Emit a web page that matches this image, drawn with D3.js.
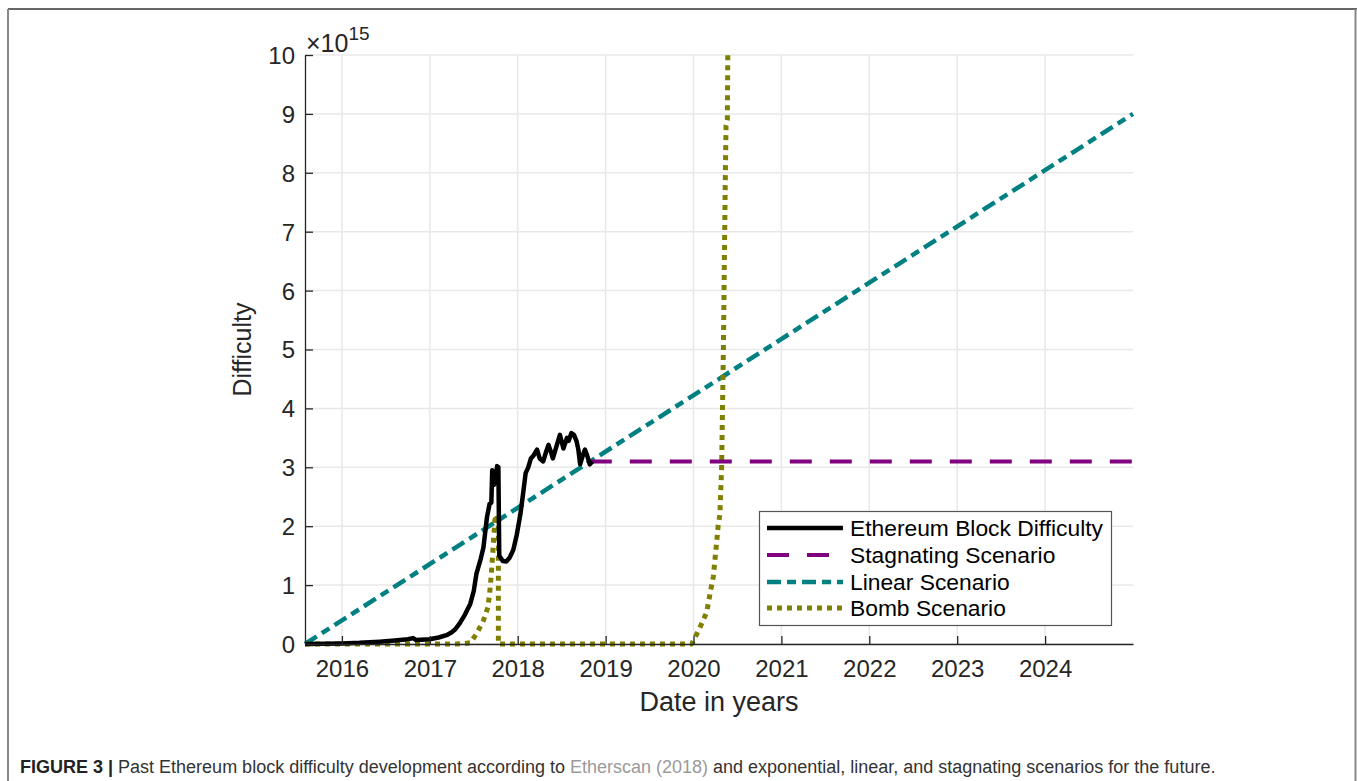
<!DOCTYPE html>
<html><head><meta charset="utf-8">
<script src="https://cdn.jsdelivr.net/npm/d3@7"></script>
<style>
html,body{margin:0;padding:0;background:#fff;}
svg{display:block;font-family:"Liberation Sans",Arial,Helvetica,sans-serif;}
</style></head>
<body>
<svg id="chart" width="1357" height="781"></svg>
<script>
// ---- data (x in decimal years, y in units of 1e15) ----
const yearTicks = [2016, 2017, 2018, 2019, 2020, 2021, 2022, 2023, 2024];
const diffTicks = [0, 1, 2, 3, 4, 5, 6, 7, 8, 9, 10];
const seriesNames = ["Ethereum Block Difficulty", "Stagnating Scenario", "Linear Scenario", "Bomb Scenario"];

const ethYears = [2015.58,2015.8,2016.0,2016.2,2016.43,2016.6,2016.75,2016.81,2016.84,2017.0,2017.1,2017.19,2017.25,2017.29,2017.34,2017.4,2017.46,2017.5,2017.53,2017.58,2017.61,2017.65,2017.68,2017.70,2017.71,2017.73,2017.75,2017.765,2017.78,2017.79,2017.83,2017.87,2017.91,2017.95,2017.99,2018.03,2018.06,2018.09,2018.12,2018.15,2018.18,2018.22,2018.25,2018.29,2018.32,2018.35,2018.38,2018.40,2018.44,2018.48,2018.52,2018.56,2018.58,2018.61,2018.64,2018.67,2018.69,2018.71,2018.74,2018.765,2018.79,2018.82,2018.85];
const ethValues = [0.0,0.005,0.01,0.02,0.04,0.06,0.08,0.1,0.07,0.08,0.11,0.15,0.2,0.25,0.35,0.5,0.68,0.9,1.19,1.45,1.64,2.15,2.38,2.4,2.95,2.7,2.8,3.02,3.0,1.5,1.41,1.4,1.47,1.6,1.86,2.2,2.54,2.9,3.0,3.15,3.2,3.3,3.15,3.1,3.25,3.38,3.25,3.15,3.35,3.55,3.32,3.5,3.45,3.58,3.55,3.44,3.3,3.05,3.2,3.3,3.2,3.05,3.1];

const stagYears = [2018.82, 2025.0];
const stagValues = [3.1, 3.1];

const linYears = [2015.58, 2025.0];
const linValues = [0, 9];

const bombYears = [2015.58,2017.3,2017.4,2017.46,2017.53,2017.61,2017.66,2017.68,2017.70,2017.72,2017.74,2017.76,2017.78,2017.78,2019.98,2020.07,2020.15,2020.19,2020.225,2020.26,2020.28,2020.30,2020.32,2020.34,2020.36,2020.37,2020.385,2020.39];
const bombValues = [0,0,0.01,0.02,0.17,0.4,0.62,0.85,1.19,1.64,2.1,2.2,2.0,0,0,0.27,0.54,0.87,1.14,1.68,2.0,2.2,3.0,5.0,7.7,8.8,8.9,10];

// ---- layout ----
const svg = d3.select("#chart");
const L = 305, R = 1133, T = 55, B = 644;
const x = d3.scaleLinear().domain([2015.58, 2025.0]).range([L, R]);
const y = d3.scaleLinear().domain([0, 10]).range([B, T]);
const axisColor = "#262626";

// outer frame
svg.append("line").attr("x1",8).attr("x2",1357).attr("y1",9).attr("y2",9).attr("stroke","#333").attr("stroke-width",1.5);
svg.append("line").attr("x1",8).attr("x2",8).attr("y1",9).attr("y2",781).attr("stroke","#888").attr("stroke-width",2);
svg.append("line").attr("x1",1355.5).attr("x2",1355.5).attr("y1",9).attr("y2",781).attr("stroke","#888").attr("stroke-width",2);

// grid
const g = svg.append("g");
g.selectAll(".vg").data(yearTicks).enter().append("line")
  .attr("x1", d => x(d)).attr("x2", d => x(d)).attr("y1", T).attr("y2", B)
  .attr("stroke", "#e8e8e8").attr("stroke-width", 1.5);
g.selectAll(".hg").data(diffTicks).enter().append("line")
  .attr("x1", L).attr("x2", R).attr("y1", d => y(d)).attr("y2", d => y(d))
  .attr("stroke", "#e8e8e8").attr("stroke-width", 1.5);

// series
const line = d3.line().x(d => x(d[0])).y(d => y(d[1]));
const zip = (a, b) => a.map((v, i) => [v, b[i]]);
const styles = [
  {color:"#000000", width:4.5, dash:null},
  {color:"#800080", width:4, dash:"22,18"},
  {color:"#008080", width:4.5, dash:"14,6,9,6"},
  {color:"#808000", width:5, dash:"5,5"}
];
const seriesData = [zip(ethYears, ethValues), zip(stagYears, stagValues), zip(linYears, linValues), zip(bombYears, bombValues)];
const drawOrder = [2, 3, 1, 0];
drawOrder.forEach(i => {
  svg.append("path").datum(seriesData[i]).attr("d", line)
    .attr("fill", "none").attr("stroke", styles[i].color)
    .attr("stroke-width", styles[i].width)
    .attr("stroke-linejoin", "round")
    .attr("stroke-dasharray", styles[i].dash);
});

// axes
const xAxis = d3.axisBottom(x).tickValues(yearTicks).tickFormat(d3.format("d")).tickSizeInner(-8).tickSizeOuter(0).tickPadding(16);
const yAxis = d3.axisLeft(y).tickValues(diffTicks).tickFormat(d3.format("d")).tickSizeInner(-8).tickSizeOuter(0).tickPadding(10);
const gx = svg.append("g").attr("transform", `translate(0,${B})`).call(xAxis);
const gy = svg.append("g").attr("transform", `translate(${L},0)`).call(yAxis);
[gx, gy].forEach(a => {
  a.select(".domain").attr("stroke", axisColor).attr("stroke-width", 1.3);
  a.selectAll(".tick line").attr("stroke", axisColor).attr("stroke-width", 1.3);
  a.selectAll(".tick text").attr("fill", axisColor).style("font-size", "24px")
    .style("font-family", '"Liberation Sans",Arial,sans-serif');
});
gx.selectAll(".tick text").attr("dy", "0.71em");
gy.selectAll(".tick text").attr("dy", "0.35em");

// exponent label
const ex = svg.append("text").attr("x", 306).attr("y", 52).attr("fill", axisColor).style("font-size", "25px");
ex.append("tspan").text("×10");
ex.append("tspan").attr("dy", -12).style("font-size", "19px").text("15");

// axis titles
svg.append("text").attr("x", (L + R) / 2).attr("y", 711).attr("text-anchor", "middle")
  .attr("fill", axisColor).style("font-size", "27px").text("Date in years");
svg.append("text").attr("transform", `translate(251,${(T + B) / 2}) rotate(-90)`).attr("text-anchor", "middle")
  .attr("fill", axisColor).style("font-size", "25px").text("Difficulty");

// legend
const lg = svg.append("g");
lg.append("rect").attr("x", 759.5).attr("y", 511.5).attr("width", 352).attr("height", 114)
  .attr("fill", "#fff").attr("stroke", "#555").attr("stroke-width", 1.2);
const rowY = [528, 555, 582, 608];
seriesNames.forEach((name, i) => {
  lg.append("line").attr("x1", 767).attr("x2", 843).attr("y1", rowY[i]).attr("y2", rowY[i])
    .attr("stroke", styles[i].color).attr("stroke-width", styles[i].width)
    .attr("stroke-dasharray", styles[i].dash);
  lg.append("text").attr("x", 850).attr("y", rowY[i]).attr("dy", "0.35em")
    .attr("fill", "#000").style("font-size", "22.8px").text(name);
});

// caption
const cap = svg.append("text").attr("x", 20).attr("y", 773).style("font-size", "18px").attr("fill", "#333");
cap.append("tspan").style("font-weight", "bold").attr("fill", "#222").text("FIGURE 3 | ");
cap.append("tspan").text("Past Ethereum block difficulty development according to ");
cap.append("tspan").attr("fill", "#9a9a9a").text("Etherscan (2018)");
cap.append("tspan").text(" and exponential, linear, and stagnating scenarios for the future.");
</script>
</body></html>
